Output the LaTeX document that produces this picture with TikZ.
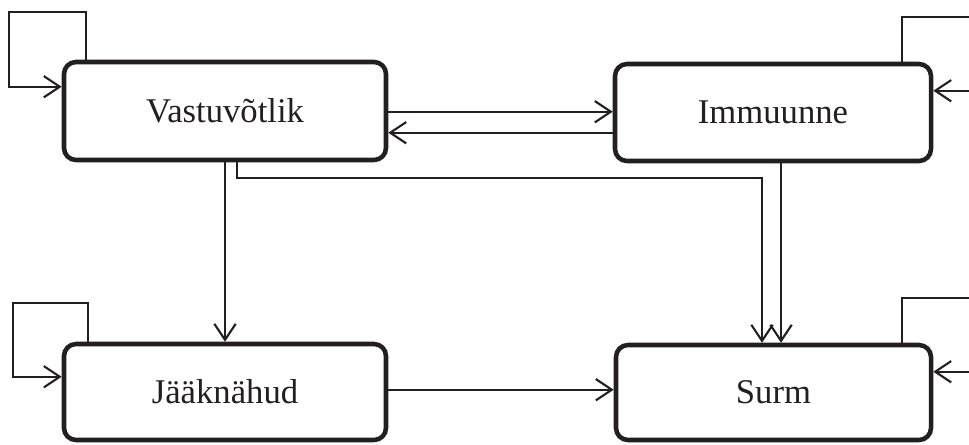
\documentclass[tikz,border=0pt]{standalone}
\usepackage{fontspec}
\setmainfont{Liberation Serif}
\usetikzlibrary{calc,arrows.meta}
\definecolor{ink}{HTML}{231F20}
\begin{document}
\begin{tikzpicture}[x=0.75pt,y=-0.75pt,
  state/.style={draw=ink,line width=3.4pt,rounded corners=9pt,fill=white,
    inner sep=0pt,font=\fontsize{26}{30}\selectfont,text=ink},
  conn/.style={draw=ink,line width=1.5pt,
    -{Straight Barb[length=12pt,width=16pt,line width=1.6pt]}}]
\clip (0,0) rectangle (969,444);
\fill[white] (0,0) rectangle (969,444);

\node[state,minimum width=241.5pt,minimum height=73.5pt] (V) at (225,111) {Vastuvõtlik};
\node[state,minimum width=237pt,minimum height=72.75pt] (I) at (773,112.5) {Immuunne};
\node[state,minimum width=241.5pt,minimum height=72pt] (J) at (225,392) {Jääknähud};
\node[state,minimum width=236.25pt,minimum height=71.25pt] (S) at (773.5,392.5) {Surm};

% self loops
\coordinate (lv) at (9,12);
\coordinate (li) at (1000,17);
\coordinate (lj) at (13,303);
\coordinate (ls) at (1000,298);
\draw[conn] ($(V.north west)+(24,0)$) |- (lv) |- ($(V.north west)+(0,27)$);
\draw[conn] ($(I.north east)+(-31,0)$) |- (li) |- ($(I.north east)+(0,29)$);
\draw[conn] ($(J.north west)+(26,0)$) |- (lj) |- ($(J.north west)+(0,35)$);
\draw[conn] ($(S.north east)+(-31,0)$) |- (ls) |- ($(S.north east)+(0,29)$);

% V <-> I
\draw[conn] ($(V.north east)+(0,52)$) -- ($(I.north west)+(0,50)$);
\draw[conn] ($(I.north west)+(0,71)$) -- ($(V.north east)+(0,73)$);

% V -> J
\draw[conn] (V.south) -- (J.north);

% V -> S
\coordinate (vs) at ($(V.south)+(12,0)$);
\coordinate (c1) at (762,178);
\draw[conn] (vs) |- (c1) -- (c1 |- S.north);

% I -> S
\coordinate (is) at ($(I.south)+(8,0)$);
\draw[conn] (is) -- (is |- S.north);

% J -> S
\coordinate (js) at ($(J.north east)+(0,48)$);
\draw[conn] (js) -- (js -| S.west);
\end{tikzpicture}
\end{document}
